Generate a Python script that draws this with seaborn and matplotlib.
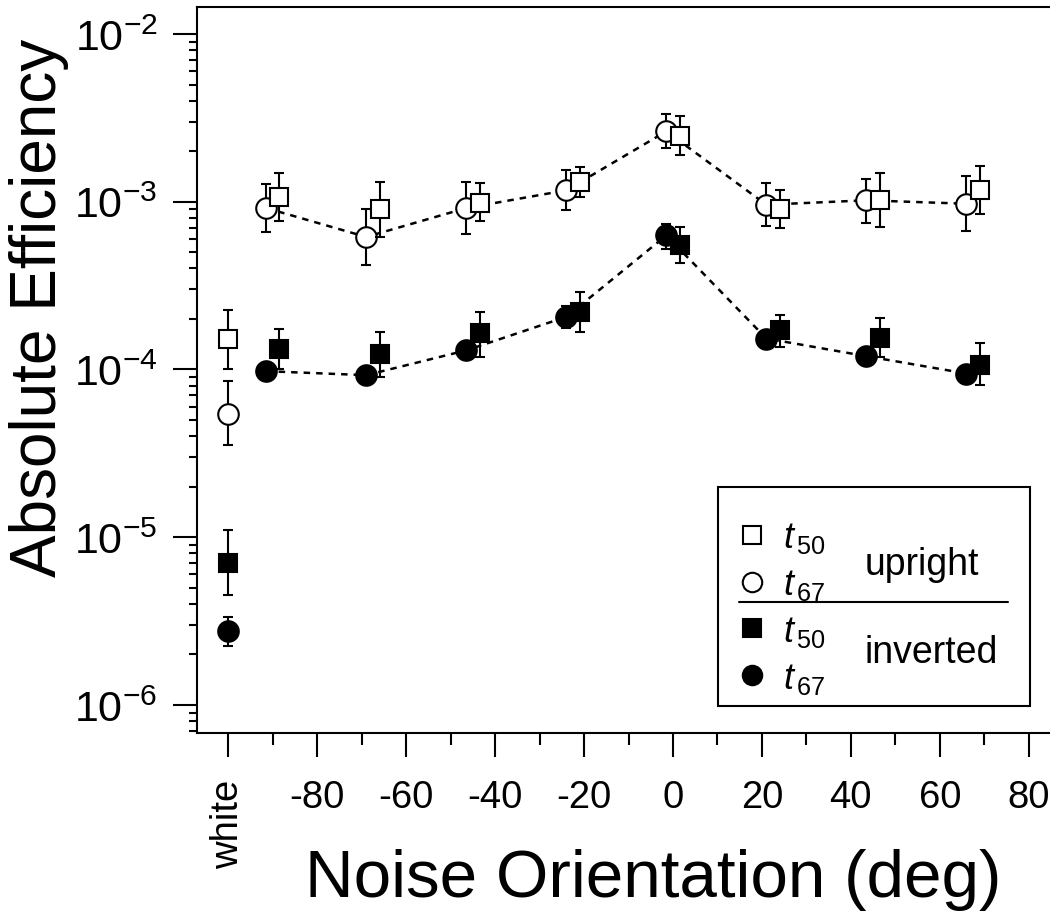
import numpy as np
import pandas as pd
import seaborn as sns
import matplotlib.pyplot as plt
from matplotlib.lines import Line2D
from matplotlib.patches import Rectangle
from matplotlib.ticker import LogLocator, FixedLocator, NullFormatter

# noise orientation (deg); -100 stands for the "white" noise condition
orient = [-100, -90, -67.5, -45, -22.5, 0, 22.5, 45, 67.5]
xtick_pos = [-100, -80, -60, -40, -20, 0, 20, 40, 60, 80]
xtick_labels = ['white', '-80', '-60', '-40', '-20', '0', '20', '40', '60', '80']

# upright faces
up_t50 = [1.51e-4, 1.07e-3, 9.08e-4, 9.86e-4, 1.32e-3, 2.48e-3, 9.08e-4, 1.03e-3, 1.18e-3]
up_t50_lo = [1.00e-4, 7.64e-4, 6.17e-4, 7.64e-4, 1.07e-3, 1.89e-3, 6.97e-4, 7.06e-4, 8.41e-4]
up_t50_hi = [2.25e-4, 1.49e-3, 1.32e-3, 1.29e-3, 1.62e-3, 3.24e-3, 1.18e-3, 1.49e-3, 1.63e-3]

up_t67 = [5.4e-5, 9.17e-4, 6.17e-4, 9.17e-4, 1.17e-3, 2.63e-3, 9.6e-4, 1.02e-3, 9.73e-4]
up_t67_lo = [3.53e-5, 6.61e-4, 4.22e-4, 6.46e-4, 8.91e-4, 2.09e-3, 7.16e-4, 7.5e-4, 6.7e-4]
up_t67_hi = [8.49e-5, 1.28e-3, 9.0e-4, 1.31e-3, 1.55e-3, 3.34e-3, 1.29e-3, 1.37e-3, 1.42e-3]

# inverted faces
inv_t50 = [7.06e-6, 1.32e-4, 1.23e-4, 1.64e-4, 2.2e-4, 5.55e-4, 1.71e-4, 1.54e-4, 1.07e-4]
inv_t50_lo = [4.5e-6, 1.0e-4, 9.0e-5, 1.19e-4, 1.67e-4, 4.34e-4, 1.36e-4, 1.19e-4, 8.07e-5]
inv_t50_hi = [1.10e-5, 1.74e-4, 1.67e-4, 2.2e-4, 2.9e-4, 7.06e-4, 2.12e-4, 2.03e-4, 1.43e-4]

inv_t67 = [2.75e-6, 9.77e-5, 9.25e-5, 1.30e-4, 2.06e-4, 6.3e-4, 1.53e-4, 1.2e-4, 9.46e-5]
inv_t67_lo = [2.25e-6, 9.0e-5, 8.5e-5, 1.2e-4, 1.76e-4, 5.25e-4, 1.42e-4, 1.11e-4, 8.8e-5]
inv_t67_hi = [3.34e-6, 1.06e-4, 1.0e-4, 1.41e-4, 2.4e-4, 7.4e-4, 1.65e-4, 1.3e-4, 1.02e-4]

sns.set_theme(style="ticks", rc={'text.color': 'black', 'axes.labelcolor': 'black',
                                 'xtick.color': 'black', 'ytick.color': 'black',
                                 'axes.edgecolor': 'black'})
plt.rcParams['font.family'] = ['Liberation Sans', 'DejaVu Sans']
plt.rcParams['mathtext.fontset'] = 'custom'
plt.rcParams['mathtext.rm'] = 'Liberation Sans'
plt.rcParams['mathtext.it'] = 'Liberation Sans:italic'
plt.rcParams['mathtext.bf'] = 'Liberation Sans:bold'

fig = plt.figure(figsize=(10.5, 9.2), dpi=100)
ax = fig.add_axes([0.1872, 0.2022, 0.8175, 0.7891])
ax.set_yscale('log')

# small horizontal jitter so the two thresholds don't sit on top of each other
shift = 1.5
x_c = [o if o == -100 else o - shift for o in orient]
x_s = [o if o == -100 else o + shift for o in orient]

# dashed lines join the t67 points (white noise excluded)
lines = pd.DataFrame({'x': x_c[1:], 'upright': up_t67[1:], 'inverted': inv_t67[1:]})
for col in ['upright', 'inverted']:
    sns.lineplot(data=lines, x='x', y=col, ax=ax, color='black', lw=1.8,
                 linestyle=(0, (2.6, 2.4)), zorder=2)


def draw(x, y, lo, hi, marker, face, ms, z):
    y = np.array(y)
    err = [y - np.array(lo), np.array(hi) - y]
    ax.errorbar(x, y, yerr=err, fmt=marker, ms=ms, mfc=face, mec='black', mew=1.5,
                ecolor='black', elinewidth=1.5, capsize=3.6, capthick=1.5, zorder=z)


draw(x_c, up_t67, up_t67_lo, up_t67_hi, 'o', 'white', 14.8, 3)
draw(x_s, up_t50, up_t50_lo, up_t50_hi, 's', 'white', 13.3, 4)
draw(x_c, inv_t67, inv_t67_lo, inv_t67_hi, 'o', 'black', 14.8, 5)
draw(x_s, inv_t50, inv_t50_lo, inv_t50_hi, 's', 'black', 13.3, 6)

ax.set_xlim(-107.15, 85.9)
ax.set_ylim(10 ** -6.167, 10 ** -1.839)

ax.set_xticks(xtick_pos, xtick_labels)
ax.xaxis.set_minor_locator(FixedLocator(np.arange(-90, 80, 20)))
ax.yaxis.set_major_locator(LogLocator(base=10, numticks=20))
ax.yaxis.set_minor_locator(LogLocator(base=10, subs=np.arange(2, 10), numticks=20))
ax.yaxis.set_minor_formatter(NullFormatter())

ax.tick_params(axis='both', which='major', length=17, width=1.5, pad=12)
ax.tick_params(axis='x', which='major', labelsize=27.5, pad=16)
ax.tick_params(axis='y', which='major', labelsize=31, pad=11)
ax.tick_params(axis='x', which='minor', length=8.5, width=1.5)
ax.tick_params(axis='y', which='minor', length=6, width=1.5)
ax.get_xticklabels()[0].set_rotation(90)

for sp in ax.spines.values():
    sp.set_linewidth(1.5)
    sp.set_color('black')

ax.set_xlabel('Noise Orientation (deg)', fontsize=48.5)
ax.xaxis.set_label_coords(0.532, -0.158)
ax.set_ylabel('Absolute Efficiency', fontsize=46)
ax.yaxis.set_label_coords(-0.149, 0.5875)

# legend: two groups of markers with a rule between them
handles = [
    Line2D([], [], ls='none', marker='s', ms=13, mfc='white', mec='black', mew=1.5),
    Line2D([], [], ls='none', marker='o', ms=14, mfc='white', mec='black', mew=1.5),
    Line2D([], [], ls='none', marker='s', ms=13, mfc='black', mec='black', mew=1.5),
    Line2D([], [], ls='none', marker='o', ms=14, mfc='black', mec='black', mew=1.5),
]
labels = ['$t_{\\,50}$', '$t_{\\,67}$', '$t_{\\,50}$', '$t_{\\,67}$']
ax.legend(handles, labels, loc='upper left', bbox_to_anchor=(0.626, 0.293),
          frameon=False, fontsize=26, handlelength=1.0, handletextpad=0.37,
          labelspacing=0.33, borderpad=0, borderaxespad=0)
ax.add_patch(Rectangle((0.6074, 0.0372), 0.3635, 0.3016, transform=ax.transAxes,
                       fill=False, lw=1.5, ec='black', clip_on=False, zorder=10))
ax.add_line(Line2D([0.632, 0.945], [0.1804, 0.1804], transform=ax.transAxes,
                   color='black', lw=1.5, zorder=10))
ax.text(0.7786, 0.219, 'upright', transform=ax.transAxes, fontsize=27, va='baseline')
ax.text(0.7786, 0.0974, 'inverted', transform=ax.transAxes, fontsize=27, va='baseline')

fig.savefig('out.png', dpi=100)
